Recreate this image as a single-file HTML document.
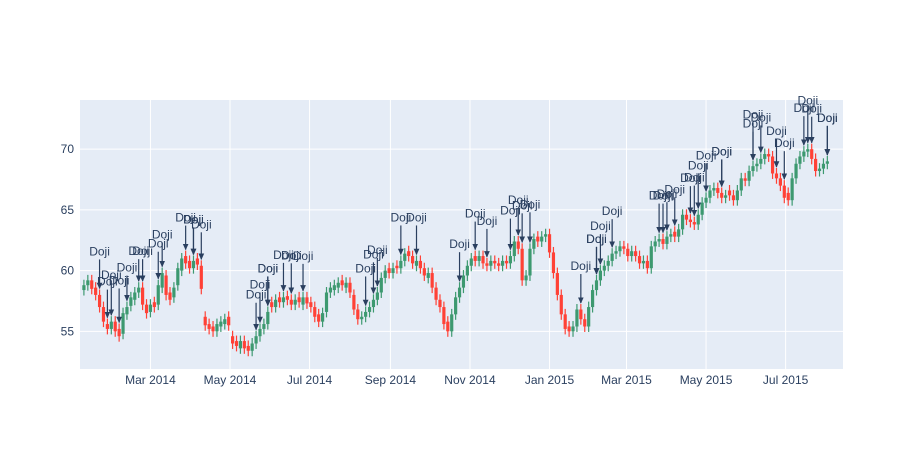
<!DOCTYPE html>
<html><head><meta charset="utf-8">
<style>
html,body{margin:0;padding:0;background:#fff;}
svg{display:block;font-family:"Liberation Sans",Arial,sans-serif;}
</style></head>
<body>
<svg id="chart" width="924" height="450" viewBox="0 0 924 450">
<rect x="0" y="0" width="924" height="450" fill="#fff"/>
<rect x="80" y="100" width="763" height="269" fill="#E5ECF6"/>
<g id="grid"></g>
<g id="candles"></g>
<g id="annots"></g>
<g id="xticks"></g>
<g id="yticks"></g>
</svg>
<script>
const startDate = "2014-01-09";
const stepDays = 3;
const opens = [58.4,58.8,59.2,58.6,58.0, 57.0,55.6,55.2,55.8,55.2, 54.8,56.4,57.1,57.6,58.2, 58.6,57.2,56.6,57.4,57.2,
 58.6,59.6,58.2,57.8,58.8, 60.0,61.2,60.8,60.2,61.0, 60.4,56.2,55.6,55.4,55.0,55.4,55.6,56.2,
 54.6,54.2,53.6,54.2,53.8,53.4,54.0, 54.6,55.2,55.6,57.4,57.0, 57.8,57.4,57.9,57.6,57.2, 57.8,57.2,57.8,57.4,57.0,
 56.4,55.8,56.6,58.2,58.4, 58.6,59.2,58.6,59.0,58.0, 56.8,56.0,56.2,56.6,57.0, 57.6,58.2,59.4,60.2,59.8,
 60.4,60.2,60.8,61.6,61.2, 60.4,60.8,60.2,59.4,59.8, 58.6,57.6,57.0,55.8,55.0, 56.4,57.8,58.6,59.6,60.4,
 61.2,60.8,61.2,60.6,60.4, 60.8,60.6,60.4,60.8,60.6, 61.2,62.4,61.8,59.2,59.6, 61.8,62.8,62.4,62.8,63.0,
 61.5,59.8,58.0,56.4,55.4, 55.0,55.4,56.8,56.0,55.4, 57.0,58.4,59.2,60.0,60.4, 60.8,61.4,61.6,62.0,61.8,
 61.2,61.6,61.2,60.6,60.8, 60.2,62.0,62.4,62.6,62.2, 62.8,63.2,62.8,63.4,64.6, 64.2,64.0,63.8,64.6,65.6,
 66.0,66.6,66.8,66.4,66.0, 66.6,66.2,65.8,66.6,67.6, 67.4,68.2,68.6,68.8,69.2, 69.6,69.4,68.0,67.6,67.0,
 66.4,65.8,67.6,68.8,69.4, 69.8,70.0,69.2,68.2,68.4, 68.8];
const closes = [58.8,59.2,58.5,58.0,57.0, 55.8,55.2,55.8,55.0,54.6, 56.5,57.0,57.8,58.2,58.6, 57.2,56.5,57.2,57.0,58.8,
 59.8,58.0,57.6,58.6,60.2, 61.0,60.6,60.2,60.8,60.5, 58.5,55.5,55.2,55.0,55.6,55.8,56.0,55.5,
 54.0,53.8,54.2,53.6,53.4,54.0,54.6, 55.2,55.6,56.6,57.0,57.6, 57.4,57.8,57.6,57.2,57.6, 57.4,57.8,57.3,57.0,56.2,
 55.8,56.5,58.2,58.6,58.8, 59.0,58.8,59.0,58.2,56.8, 56.0,56.2,56.6,57.0,57.6, 58.2,59.4,60.0,59.8,60.2,
 60.2,60.8,61.4,61.2,60.6, 60.8,60.2,59.6,59.8,58.6, 57.6,57.0,55.6,55.0,56.4, 57.8,58.6,59.6,60.4,61.0,
 60.8,61.2,60.6,60.4,60.8, 60.6,60.4,60.8,60.6,61.2, 62.4,61.8,59.2,59.6,61.8, 62.6,62.4,62.8,63.0,61.5,
 59.8,58.0,56.4,55.2,55.0, 55.4,56.8,56.0,55.4,57.0, 58.4,59.2,60.0,60.4,60.8, 61.4,61.6,62.0,61.8,61.2,
 61.6,61.2,60.6,60.8,60.2, 62.0,62.4,62.6,62.2,62.8, 63.0,62.8,63.4,64.6,64.2, 64.0,63.8,64.6,65.6,66.0,
 66.6,66.8,66.4,66.0,66.2, 66.2,65.8,66.6,67.6,67.4, 68.2,68.6,68.8,69.2,69.6, 69.4,68.0,67.6,67.0,66.0,
 65.8,67.6,68.8,69.4,69.8, 70.0,69.2,68.2,68.4,68.8, 69.0];
const highs = closes.map((c,i)=>Math.max(c,opens[i])+0.45);
const lows = closes.map((c,i)=>Math.min(c,opens[i])-0.45);
const dojiIdx = [4,6,7,9,11,14,15,19,20,26,28,28,30,44,45,47,47,51,53,56,72,74,75,81,85,96,100,103,109,111,112,114,127,131,131,132,135,147,148,149,151,155,156,157,159,163,163,171,171,173,177,179,184,185,186,190,190];
const dojiAy = [37,36,40,42,33,30,30,35,32,32,35,35,35,35,38,37,37,36,38,35,37,39,36,37,37,37,36,36,39,35,37,38,37,35,35,38,36,37,37,36,36,35,38,43,36,35,35,36,45,35,36,36,37,42,34,37,37];
const yTicks = [55,60,65,70];
const xTickLabels = ["Mar 2014","May 2014","Jul 2014","Sep 2014","Nov 2014","Jan 2015","Mar 2015","May 2015","Jul 2015"];
const xTickDates = ["2014-03-01","2014-05-01","2014-07-01","2014-09-01","2014-11-01","2015-01-01","2015-03-01","2015-05-01","2015-07-01"];

const NS="http://www.w3.org/2000/svg";
const X0=80,X1=843,Y0=100,Y1=369;
const dMin=Date.parse("2014-01-06"), dMax=Date.parse("2015-08-14");
const pMin=51.9,pMax=74.05;
function xs(t){return X0+(t-dMin)/(dMax-dMin)*(X1-X0);}
function ys(p){return Y1-(p-pMin)/(pMax-pMin)*(Y1-Y0);}
function mk(tag,attrs,parent){const e=document.createElementNS(NS,tag);for(const k in attrs)e.setAttribute(k,attrs[k]);parent.appendChild(e);return e;}
const grid=document.getElementById('grid'),cg=document.getElementById('candles'),ag=document.getElementById('annots'),xg=document.getElementById('xticks'),yg=document.getElementById('yticks');
yTicks.forEach(v=>{const y=ys(v);
 const l=mk('line',{x1:X0,x2:X1,y1:y,y2:y,stroke:'#fff','stroke-width':1},grid);
 
 
 const t=mk('text',{x:74,y:y+4,'text-anchor':'end','font-size':12,fill:'#2a3f5f'},yg);t.textContent=v;
 
 });
xTickDates.forEach((d,i)=>{const x=xs(Date.parse(d));
 const l=mk('line',{x1:x,x2:x,y1:Y0,y2:Y1,stroke:'#fff','stroke-width':1},grid);
 
 
 const t=mk('text',{x:x,y:384,'text-anchor':'middle','font-size':12,fill:'#2a3f5f'},xg);t.textContent=xTickLabels[i];
 
 });
const t0=Date.parse(startDate);
function cx(i){return xs(t0+i*stepDays*86400000);}
closes.forEach((c,i)=>{const o=opens[i];const x=cx(i);const col=c>=o?'#3D9970':'#FF4136';
 const g=mk('g',{},cg);
 
 
 mk('line',{x1:x,x2:x,y1:ys(highs[i]),y2:ys(lows[i]),stroke:col,'stroke-width':1.2},g);
 const top=ys(Math.max(o,c)),bot=ys(Math.min(o,c));
 mk('rect',{x:x-1.6,y:top,width:3.2,height:Math.max(1,bot-top),fill:col},g);});
mk('defs',{},ag).innerHTML='<marker id="ah" viewBox="0 0 10 10" refX="8" refY="5" markerWidth="6" markerHeight="6" orient="auto"><path d="M0,1 L9,5 L0,9 z" fill="#2a3f5f"/></marker>';
dojiIdx.forEach((i,k)=>{const x=cx(i);const tipY=ys(highs[i])-1;const ly=tipY-dojiAy[k];
 const g=mk('g',{},ag);
 
 
 mk('line',{x1:x,x2:x,y1:ly+8,y2:tipY,stroke:'#2a3f5f','stroke-width':1.2,'marker-end':'url(#ah)'},g);
 const t=mk('text',{x:x,y:ly+4,'text-anchor':'middle','font-size':12,fill:'#2a3f5f'},g);t.textContent='Doji';});
</script>
</body></html>
